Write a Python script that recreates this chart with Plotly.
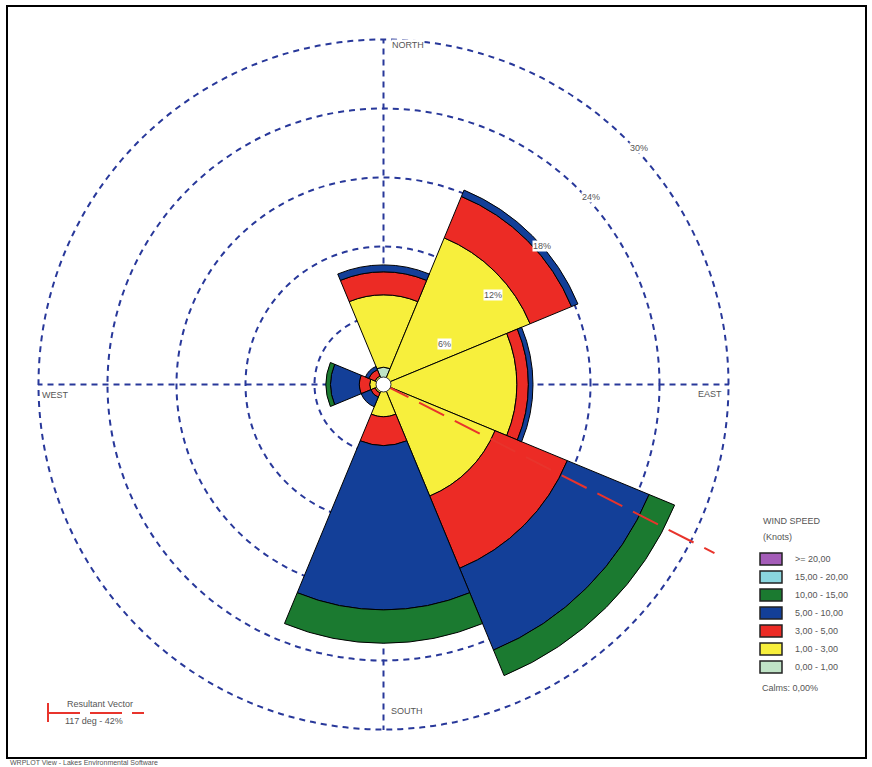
import plotly.graph_objects as go
import math

# ---------------- data ----------------
directions = ["N", "NE", "E", "SE", "S", "SW", "W", "NW"]
theta = [0, 45, 90, 135, 180, 225, 270, 315]
sector_width = 45

speed_classes = ["0,00 - 1,00", "1,00 - 3,00", "3,00 - 5,00", "5,00 - 10,00",
                 "10,00 - 15,00", "15,00 - 20,00", ">= 20,00"]
s0_1 = [1.5, 0.3, 0.3, 0.3, 0.3, 0.1, 0.1, 0.1]
s1_3 = [6.3, 13.5, 11.3, 10.2, 2.5, 0.7, 1.1, 0.7]
s3_5 = [2.0, 3.9, 1.0, 6.8, 2.5, 0.4, 0.9, 0.6]
s5_10 = [0.6, 0.6, 0.4, 7.7, 14.3, 0.9, 2.5, 0.3]
s10_15 = [0.0, 0.0, 0.0, 2.4, 2.9, 0.0, 0.4, 0.0]
s15_20 = [0.0] * 8
s20 = [0.0] * 8
series = [s0_1, s1_3, s3_5, s5_10, s10_15, s15_20, s20]
colors = ["#bfe3c6", "#f7ef3c", "#ec2b25", "#133f98", "#1b7a30", "#8ad6de", "#a45cb8"]

ring_vals = [6, 12, 18, 24, 30]
ring_labels = ["6%", "12%", "18%", "24%", "30%"]
calms_text = "Calms: 0,00%"
resultant_dir = 117
resultant_len = 32.3
resultant_text = "117 deg - 42%"

# ---------------- layout geometry ----------------
W, H = 872, 767
CX, CY = 383.5, 384.5
PX_PER = 11.5
R_MAIN = 30.05
R_VEC = 33.0
GRID_C = "#28389a"
TXT_C = "#555555"
FONT = "Liberation Sans, Arial, sans-serif"


def dom(rmax):
    rad = rmax * PX_PER
    return dict(x=[(CX - rad) / W, (CX + rad) / W],
                y=[1 - (CY + rad) / H, 1 - (CY - rad) / H])


def px(x):
    return x / W


def py(y):
    return 1 - y / H


def label(x, y, text, xanchor="center", size=9, bg=None):
    d = dict(x=px(x), y=py(y), xref="paper", yref="paper", text=text,
             showarrow=False, xanchor=xanchor, yanchor="middle",
             font=dict(size=size, color=TXT_C, family=FONT))
    if bg:
        d["bgcolor"] = bg
        d["borderpad"] = 0
    return d


fig = go.Figure()

for vals, col, name in zip(series, colors, speed_classes):
    if not any(v > 0 for v in vals):
        continue
    fig.add_trace(go.Barpolar(
        r=vals, theta=theta, width=[sector_width] * len(theta),
        marker=dict(color=col, line=dict(color="black", width=1)),
        name=name, showlegend=False, subplot="polar"))

# resultant vector + calm circle on overlay polar
fig.add_trace(go.Scatterpolar(
    r=[0, resultant_len], theta=[resultant_dir, resultant_dir], mode="lines",
    line=dict(color="#e8342c", width=2, dash="28px,12px"),
    showlegend=False, subplot="polar2", hoverinfo="skip"))
fig.add_trace(go.Scatterpolar(
    r=[0], theta=[0], mode="markers",
    marker=dict(size=15, color="white", line=dict(color="#333333", width=1)),
    showlegend=False, subplot="polar2", hoverinfo="skip"))

annotations = []
shapes = []

# percent labels along NE diagonal
for v, lab in zip(ring_vals, ring_labels):
    d = v * PX_PER
    x = CX + (d + 14) / math.sqrt(2)
    y = CY - (d - 14) / math.sqrt(2) - 2
    annotations.append(label(x + 2, y, lab, bg="white"))

# compass labels
Rpx = 30 * PX_PER
annotations += [
    label(CX + 24, CY - Rpx + 6, "NORTH", bg="white"),
    label(CX + 23, CY + Rpx - 19, "SOUTH", bg="white"),
    label(CX - Rpx + 17, CY + 10, "WEST", bg="white"),
    label(CX + Rpx - 19, CY + 9, "EAST", bg="white"),
]

# legend (manual)
annotations.append(label(761, 521, "WIND SPEED", xanchor="left"))
annotations.append(label(761, 537, "(Knots)", xanchor="left"))
for i, (name, col) in enumerate(zip(speed_classes[::-1], colors[::-1])):
    yc = 559 + 18 * i
    shapes.append(dict(type="rect", xref="paper", yref="paper",
                       x0=px(760), x1=px(782), y0=py(yc + 6), y1=py(yc - 6),
                       fillcolor=col, line=dict(color="#222222", width=1.5)))
    annotations.append(label(793, yc, name, xanchor="left"))
annotations.append(label(760, 688, calms_text, xanchor="left"))

# resultant vector legend
shapes.append(dict(type="line", xref="paper", yref="paper", x0=px(48), x1=px(48),
                   y0=py(703), y1=py(722), line=dict(color="#e8342c", width=2)))
shapes.append(dict(type="line", xref="paper", yref="paper", x0=px(48), x1=px(144),
                   y0=py(713), y1=py(713), line=dict(color="#e8342c", width=2, dash="32px,10px")))
annotations.append(label(100, 704, "Resultant Vector"))
annotations.append(label(94, 721, resultant_text))

# frame and credit
shapes.append(dict(type="rect", xref="paper", yref="paper", x0=px(7), x1=px(866),
                   y0=py(758), y1=py(6), line=dict(color="black", width=2)))
annotations.append(label(8, 762.5, "WRPLOT View - Lakes Environmental Software",
                         xanchor="left", size=7))

fig.update_layout(
    width=W, height=H,
    margin=dict(l=0, r=0, t=0, b=0),
    paper_bgcolor="white",
    showlegend=False,
    polar=dict(
        domain=dom(R_MAIN),
        bgcolor="white",
        barmode="stack",
        radialaxis=dict(range=[0, R_MAIN], tickvals=ring_vals[:-1], showticklabels=False,
                        ticks="", showline=False, gridcolor=GRID_C, gridwidth=2,
                        griddash="6px,5px"),
        angularaxis=dict(rotation=90, direction="clockwise", tickvals=[0, 90, 180, 270],
                         showticklabels=False, ticks="", showline=False, showgrid=True,
                         gridcolor=GRID_C, gridwidth=2, griddash="6px,5px"),
    ),
    polar2=dict(
        domain=dom(R_VEC),
        bgcolor="rgba(0,0,0,0)",
        radialaxis=dict(range=[0, R_VEC], tickvals=[ring_vals[-1]], showticklabels=False,
                        ticks="", showline=False, showgrid=True, gridcolor=GRID_C,
                        gridwidth=2, griddash="6px,5px"),
        angularaxis=dict(rotation=90, direction="clockwise", showticklabels=False,
                         ticks="", showline=False, showgrid=False),
    ),
    annotations=annotations,
    shapes=shapes,
)

fig.write_html("out.html")
